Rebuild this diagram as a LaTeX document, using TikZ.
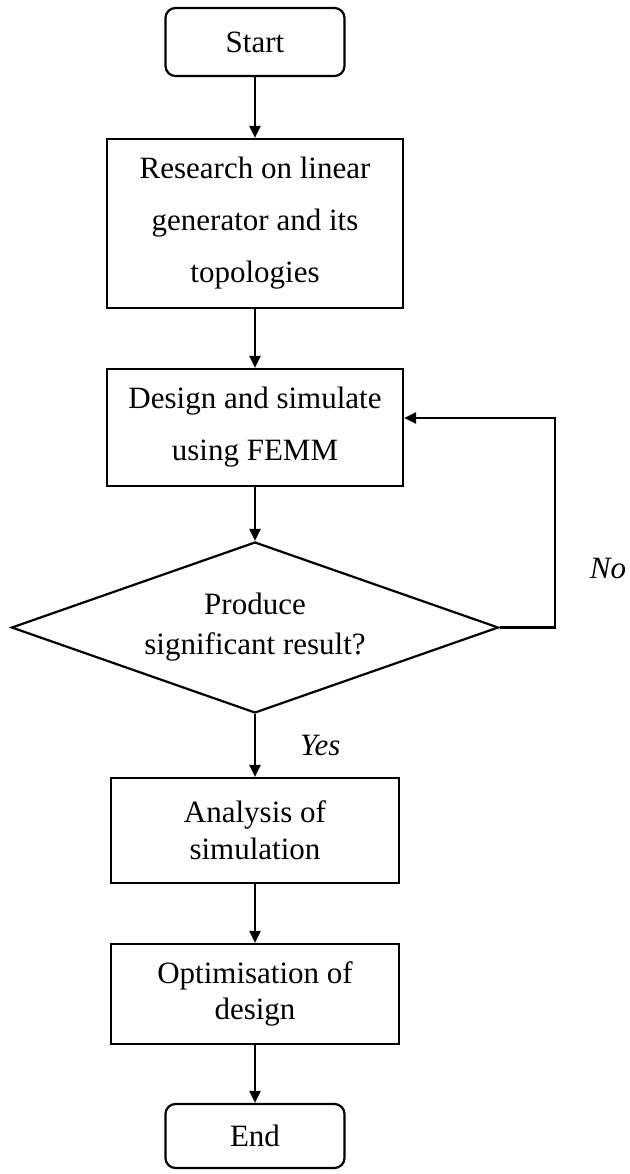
\documentclass[tikz,border=0pt]{standalone}
\usepackage{fontspec}
\setmainfont{Liberation Serif}
\usetikzlibrary{shapes.geometric, arrows.meta}

\begin{document}
\begin{tikzpicture}[x=0.5pt, y=-0.5pt, line width=1.1pt,
  every node/.style={font=\fontsize{15.5}{26}\selectfont, align=center, inner sep=0pt},
  term/.style={draw, rounded corners=5pt, minimum width=89.5pt, minimum height=34pt},
  proc/.style={draw, minimum width=148pt},
  decide/.style={draw, diamond, aspect=2.85, minimum width=243.5pt, minimum height=85.5pt},
  flow/.style={-{Triangle[length=6pt, width=5.5pt]}},
  answer/.style={font=\fontsize{15.5}{18}\selectfont\itshape}]
\useasboundingbox (0,0) rectangle (629,1174);
\node[term] (start) at (255,42) {Start};
\node[proc, minimum height=84.5pt] (research) at (255,223.5) {Research on linear\\generator and its\\topologies};
\node[proc, minimum height=58.5pt] (design) at (255,427.5) {Design and simulate\\using FEMM};
\node[decide, font=\fontsize{15.5}{20}\selectfont] (test) at (255,627.5) {Produce\\significant result?};
\node[proc, minimum width=144pt, minimum height=52.5pt, font=\fontsize{15.5}{18.5}\selectfont] (analysis) at (255,830.5) {Analysis of\\simulation};
\node[proc, minimum width=144pt, minimum height=50pt, font=\fontsize{15.5}{18}\selectfont] (optim) at (255,994) {Optimisation of\\design};
\node[term, minimum height=32pt] (end) at (255,1136) {End};

\draw[flow] (start) -- (research);
\draw[flow] (research) -- (design);
\draw[flow] (design) -- (test);
\draw[flow] (test) -- node[answer, right=22pt] {Yes} (analysis);
\draw[flow] (analysis) -- (optim);
\draw[flow] (optim) -- (end);
% back to design when the result is not good enough
\draw[flow] (test.east) -- ++(55,0) |- ([yshift=4.75pt]design.east);
\node[answer] (no) at (608,568) {No};
\end{tikzpicture}
\end{document}
